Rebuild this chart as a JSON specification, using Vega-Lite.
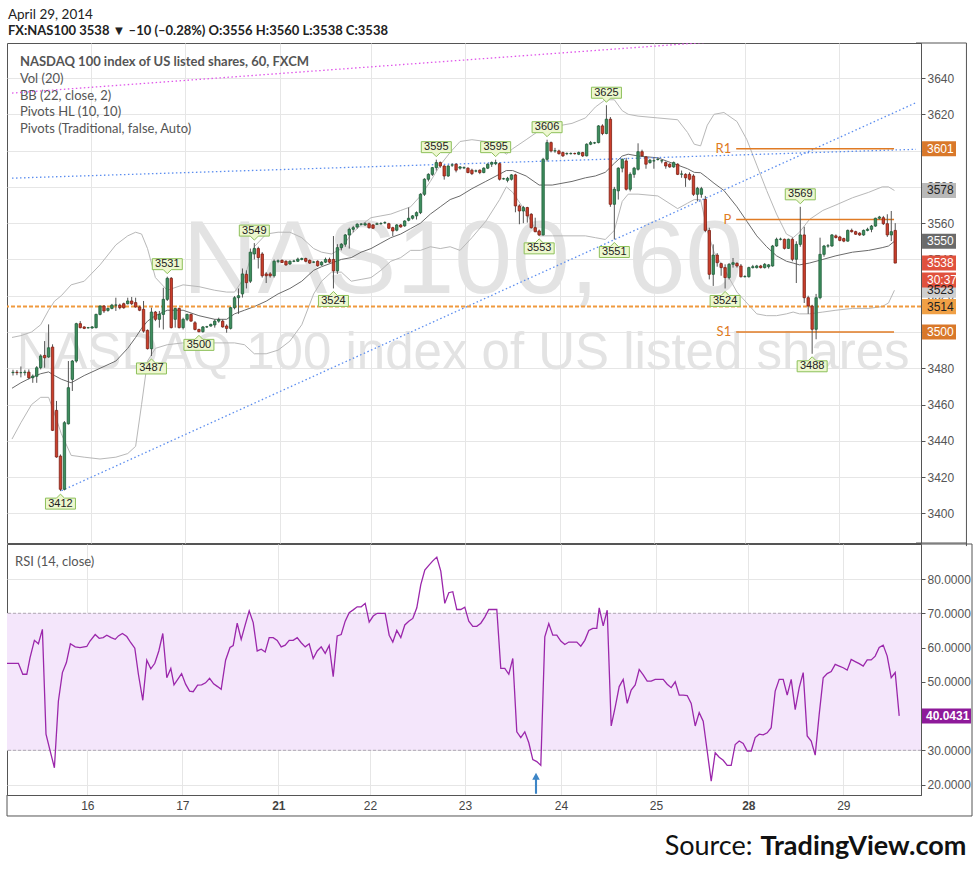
{
"$schema":"https://vega.github.io/schema/vega-lite/v6.json",
"background":"white",
"padding":{"left":3,"top":7,"right":0,"bottom":0},
"spacing":1,
"bounds":"flush",
"title":{"text":"April 29, 2014","subtitle":"FX:NAS100  3538 ▼ –10 (–0.28%)  O:3556  H:3560  L:3538  C:3538","anchor":"start","dx":4,"font":"Lato","fontSize":13.5,"fontWeight":"normal","color":"#222","subtitleFont":"Lato","subtitleFontSize":13,"subtitleFontWeight":"bold","subtitleColor":"#222","offset":4,"subtitlePadding":4},
"config":{
 "view":{"stroke":"#555","strokeWidth":1},
 "axis":{"gridColor":"#e6e6e6","gridWidth":1,"labelFont":"Liberation Sans","labelFontSize":12,"labelColor":"#555","domainColor":"#555","tickColor":"#555","minExtent":0,"labelOverlap":false,"labelBound":false,"labelFlush":false}
},
"datasets":{
"candles":[
{"k":0,"o":3477.6,"h":3479.2,"l":3476,"c":3477.8},{"k":1,"o":3477.8,"h":3479,"l":3476.2,"c":3477.6},{"k":2,"o":3477.6,"h":3481,"l":3475,"c":3477.6},{"k":3,"o":3477.6,"h":3479.2,"l":3476,"c":3477.9},{"k":4,"o":3477.9,"h":3479.4,"l":3473.9,"c":3474.8},{"k":5,"o":3474.8,"h":3476.6,"l":3472,"c":3475.7},{"k":6,"o":3475.6,"h":3481.2,"l":3472,"c":3480.3},{"k":7,"o":3480.3,"h":3487.7,"l":3479.4,"c":3486.8},{"k":8,"o":3487.1,"h":3495,"l":3480.3,"c":3485.8},{"k":9,"o":3486.2,"h":3504.2,"l":3485.8,"c":3491.3},
{"k":10,"o":3491.7,"h":3493.2,"l":3445.4,"c":3445.8},{"k":11,"o":3456.8,"h":3462,"l":3430.7,"c":3431.1},{"k":12,"o":3431.6,"h":3432.5,"l":3412.3,"c":3413.3},{"k":13,"o":3413.3,"h":3450.9,"l":3412.7,"c":3450},{"k":14,"o":3449.4,"h":3484,"l":3449,"c":3469.3},{"k":15,"o":3473.9,"h":3484.6,"l":3467.5,"c":3484},{"k":16,"o":3484,"h":3505.1,"l":3483.1,"c":3504.6},{"k":17,"o":3504.6,"h":3506,"l":3502,"c":3502.4},{"k":18,"o":3502.8,"h":3503.1,"l":3501.6,"c":3502},{"k":19,"o":3502.3,"h":3502.8,"l":3501.9,"c":3502.4},
{"k":20,"o":3502.2,"h":3503.3,"l":3501.8,"c":3502.8},{"k":21,"o":3502.4,"h":3510.1,"l":3502,"c":3509.7},{"k":22,"o":3509.7,"h":3514.8,"l":3509.2,"c":3514.3},{"k":23,"o":3514.3,"h":3514.8,"l":3510.5,"c":3511.6},{"k":24,"o":3511.9,"h":3513.4,"l":3511.2,"c":3513},{"k":25,"o":3513,"h":3515.5,"l":3512.5,"c":3514.8},{"k":26,"o":3514.8,"h":3518.9,"l":3511.6,"c":3514.9},{"k":27,"o":3514.8,"h":3515.6,"l":3512.5,"c":3513.4},{"k":28,"o":3515.6,"h":3516.2,"l":3512.8,"c":3513.4},{"k":29,"o":3515.6,"h":3518.9,"l":3515.2,"c":3517.1},
{"k":30,"o":3517.1,"h":3519.3,"l":3514.9,"c":3515.6},{"k":31,"o":3516.2,"h":3518.9,"l":3513.4,"c":3513.8},{"k":32,"o":3513.8,"h":3514.5,"l":3511.5,"c":3512},{"k":33,"o":3512.5,"h":3517.1,"l":3499.6,"c":3500.5},{"k":34,"o":3500.9,"h":3501.4,"l":3490.4,"c":3490.8},{"k":35,"o":3490.8,"h":3513.4,"l":3486.8,"c":3511},{"k":36,"o":3511,"h":3511.6,"l":3506,"c":3507},{"k":37,"o":3507,"h":3511.6,"l":3502.4,"c":3509.7},{"k":38,"o":3509.7,"h":3524.4,"l":3501.4,"c":3518},{"k":39,"o":3518,"h":3530.5,"l":3517.1,"c":3529.6},
{"k":40,"o":3529.6,"h":3530.3,"l":3502,"c":3502.4},{"k":41,"o":3507,"h":3513.4,"l":3502.4,"c":3513},{"k":42,"o":3513,"h":3513.4,"l":3502,"c":3502.4},{"k":43,"o":3502.4,"h":3507.9,"l":3501.4,"c":3507},{"k":44,"o":3507,"h":3510.1,"l":3506,"c":3509.7},{"k":45,"o":3509.7,"h":3510.1,"l":3505.7,"c":3506},{"k":46,"o":3505.1,"h":3506,"l":3500.9,"c":3501.4},{"k":47,"o":3501.4,"h":3501.8,"l":3499.8,"c":3500.2},{"k":48,"o":3500.2,"h":3503.3,"l":3499.6,"c":3502.8},{"k":49,"o":3502.8,"h":3503.4,"l":3502.2,"c":3502.9},
{"k":50,"o":3503.3,"h":3504.6,"l":3502.9,"c":3504.2},{"k":51,"o":3503.9,"h":3507,"l":3502.4,"c":3506},{"k":52,"o":3506,"h":3507.9,"l":3505.1,"c":3506.9},{"k":53,"o":3506,"h":3506.9,"l":3502.4,"c":3502.8},{"k":54,"o":3503.3,"h":3504.2,"l":3499.6,"c":3502},{"k":55,"o":3502,"h":3513.8,"l":3501.4,"c":3513.4},{"k":56,"o":3513.4,"h":3519.8,"l":3512.5,"c":3518.9},{"k":57,"o":3518.9,"h":3524,"l":3510,"c":3520},{"k":58,"o":3521,"h":3535,"l":3519,"c":3532},{"k":59,"o":3531.8,"h":3534,"l":3524,"c":3527.2},
{"k":60,"o":3528,"h":3546,"l":3527,"c":3544},{"k":61,"o":3543,"h":3549,"l":3540,"c":3546},{"k":62,"o":3546,"h":3547,"l":3535,"c":3541},{"k":63,"o":3543,"h":3544,"l":3530,"c":3531},{"k":64,"o":3532,"h":3533,"l":3527,"c":3531},{"k":65,"o":3532,"h":3533,"l":3530,"c":3531},{"k":66,"o":3531,"h":3540,"l":3530,"c":3539},{"k":67,"o":3539,"h":3540,"l":3538,"c":3539.2},{"k":68,"o":3539.5,"h":3540,"l":3538,"c":3538.3},{"k":69,"o":3539,"h":3539.5,"l":3536.5,"c":3537},
{"k":70,"o":3537.5,"h":3539.5,"l":3537,"c":3539},{"k":71,"o":3539,"h":3539.8,"l":3538.5,"c":3539.1},{"k":72,"o":3539,"h":3541,"l":3538.6,"c":3540.2},{"k":73,"o":3540,"h":3541,"l":3539.5,"c":3540.5},{"k":74,"o":3540.5,"h":3541,"l":3538.5,"c":3539},{"k":75,"o":3539.5,"h":3540,"l":3537.5,"c":3538},{"k":76,"o":3538.5,"h":3539,"l":3538,"c":3538.6},{"k":77,"o":3539,"h":3539.5,"l":3536,"c":3536.5},{"k":78,"o":3537,"h":3539,"l":3536.5,"c":3538.5},{"k":79,"o":3538.5,"h":3541,"l":3538,"c":3540},
{"k":80,"o":3540,"h":3541,"l":3538,"c":3538.5},{"k":81,"o":3540,"h":3552.9,"l":3524,"c":3533.7},{"k":82,"o":3533.7,"h":3548.4,"l":3532,"c":3546.5},{"k":83,"o":3546.5,"h":3549,"l":3545,"c":3548.4},{"k":84,"o":3548.4,"h":3554,"l":3547,"c":3553.5},{"k":85,"o":3553.5,"h":3557.5,"l":3546,"c":3556.6},{"k":86,"o":3556.6,"h":3558.5,"l":3555,"c":3557.5},{"k":87,"o":3557.9,"h":3560,"l":3557,"c":3559.4},{"k":88,"o":3559.4,"h":3560,"l":3558.8,"c":3559.5},{"k":89,"o":3559,"h":3560.5,"l":3558.5,"c":3559.7},
{"k":90,"o":3559.7,"h":3560.3,"l":3557,"c":3557.5},{"k":91,"o":3559,"h":3559.5,"l":3556.8,"c":3557.2},{"k":92,"o":3559.4,"h":3560.3,"l":3559,"c":3559.7},{"k":93,"o":3559.7,"h":3560.5,"l":3559.2,"c":3559.8},{"k":94,"o":3560.2,"h":3561,"l":3559.5,"c":3560.3},{"k":95,"o":3559.7,"h":3560.2,"l":3556.8,"c":3557.2},{"k":96,"o":3557.5,"h":3558,"l":3552.9,"c":3555.7},{"k":97,"o":3556.1,"h":3559.5,"l":3555.5,"c":3559},{"k":98,"o":3559,"h":3559.5,"l":3557.5,"c":3557.9},{"k":99,"o":3558.5,"h":3561.6,"l":3558,"c":3561.2},
{"k":100,"o":3561.6,"h":3568.6,"l":3561,"c":3562.7},{"k":101,"o":3562.7,"h":3564.5,"l":3562,"c":3564},{"k":102,"o":3564,"h":3566.5,"l":3562,"c":3565.8},{"k":103,"o":3565.8,"h":3576.5,"l":3565,"c":3575.9},{"k":104,"o":3575.9,"h":3584.8,"l":3575,"c":3584.2},{"k":105,"o":3584.2,"h":3587.5,"l":3583,"c":3586.9},{"k":106,"o":3586.9,"h":3591,"l":3586,"c":3590.6},{"k":107,"o":3590.6,"h":3595,"l":3589,"c":3593.4},{"k":108,"o":3593.4,"h":3594,"l":3590.5,"c":3591.5},{"k":109,"o":3591.5,"h":3592,"l":3584,"c":3586},
{"k":110,"o":3586,"h":3592,"l":3585.5,"c":3591.5},{"k":111,"o":3592,"h":3593,"l":3591,"c":3592.1},{"k":112,"o":3592.5,"h":3593,"l":3588,"c":3589.2},{"k":113,"o":3590.3,"h":3591.5,"l":3589.5,"c":3591},{"k":114,"o":3590.5,"h":3591.3,"l":3589.8,"c":3590.6},{"k":115,"o":3590.3,"h":3590.8,"l":3587.5,"c":3587.9},{"k":116,"o":3589.2,"h":3590,"l":3586.5,"c":3587.3},{"k":117,"o":3588.7,"h":3589.5,"l":3588,"c":3588.8},{"k":118,"o":3589.2,"h":3589.6,"l":3587,"c":3587.9},{"k":119,"o":3587.9,"h":3590.8,"l":3587.5,"c":3590.3},
{"k":120,"o":3590.3,"h":3593,"l":3589.8,"c":3592.5},{"k":121,"o":3592.5,"h":3594,"l":3591,"c":3593.4},{"k":122,"o":3592.8,"h":3595,"l":3592,"c":3593.4},{"k":123,"o":3592.8,"h":3593.5,"l":3583.5,"c":3584.2},{"k":124,"o":3584.4,"h":3585,"l":3584,"c":3584.5},{"k":125,"o":3583.6,"h":3585.5,"l":3582.5,"c":3584.7},{"k":126,"o":3584.2,"h":3587,"l":3583.5,"c":3586.6},{"k":127,"o":3586.6,"h":3587.2,"l":3566,"c":3569.5},{"k":128,"o":3569.5,"h":3570.4,"l":3559.4,"c":3566.7},{"k":129,"o":3566.7,"h":3569.5,"l":3560,"c":3568.6},
{"k":130,"o":3568.6,"h":3569,"l":3560.3,"c":3564},{"k":131,"o":3564.9,"h":3565.5,"l":3557,"c":3557.5},{"k":132,"o":3557.5,"h":3563,"l":3555,"c":3555.3},{"k":133,"o":3555.7,"h":3556.5,"l":3553,"c":3553.5},{"k":134,"o":3553.5,"h":3596,"l":3553.2,"c":3595.2},{"k":135,"o":3595.2,"h":3606,"l":3594,"c":3604.4},{"k":136,"o":3604.4,"h":3605,"l":3599,"c":3599.8},{"k":137,"o":3599.8,"h":3601.5,"l":3598.8,"c":3599.9},{"k":138,"o":3599.8,"h":3600.5,"l":3597.8,"c":3598.3},{"k":139,"o":3598.9,"h":3599.5,"l":3596.5,"c":3597.1},
{"k":140,"o":3598.3,"h":3599,"l":3597.5,"c":3598.4},{"k":141,"o":3598.3,"h":3599,"l":3597.8,"c":3598.4},{"k":142,"o":3598.4,"h":3598.9,"l":3597.8,"c":3598.3},{"k":143,"o":3598,"h":3599.5,"l":3597.5,"c":3598.9},{"k":144,"o":3598.9,"h":3599.3,"l":3596.5,"c":3597.1},{"k":145,"o":3597.1,"h":3604,"l":3596.8,"c":3603.5},{"k":146,"o":3603.5,"h":3605.3,"l":3603,"c":3604.4},{"k":147,"o":3604.2,"h":3604.8,"l":3603.6,"c":3604.3},{"k":148,"o":3604.4,"h":3614,"l":3604,"c":3613.6},{"k":149,"o":3613.6,"h":3614.5,"l":3608.5,"c":3609.4},
{"k":150,"o":3609.4,"h":3625,"l":3609,"c":3617.3},{"k":151,"o":3617.3,"h":3618.5,"l":3569,"c":3570.4},{"k":152,"o":3570.4,"h":3580,"l":3551,"c":3578.7},{"k":153,"o":3577.8,"h":3590.8,"l":3573,"c":3590.3},{"k":154,"o":3590.3,"h":3595.6,"l":3588,"c":3595.2},{"k":155,"o":3594.3,"h":3596,"l":3578,"c":3578.7},{"k":156,"o":3578.7,"h":3588,"l":3577.5,"c":3586.9},{"k":157,"o":3586.9,"h":3591,"l":3585,"c":3590.3},{"k":158,"o":3589.7,"h":3604,"l":3589,"c":3599.4},{"k":159,"o":3599.4,"h":3600.5,"l":3596.5,"c":3597.1},
{"k":160,"o":3596.5,"h":3597,"l":3590,"c":3592.5},{"k":161,"o":3593.4,"h":3595.5,"l":3592.8,"c":3594.7},{"k":162,"o":3594.3,"h":3596,"l":3590,"c":3594.4},{"k":163,"o":3595.1,"h":3596.2,"l":3594.5,"c":3595.2},{"k":164,"o":3594.3,"h":3595,"l":3593,"c":3594.4},{"k":165,"o":3593.4,"h":3594,"l":3590,"c":3591.5},{"k":166,"o":3592.5,"h":3593,"l":3590.5,"c":3591},{"k":167,"o":3591,"h":3594,"l":3590.5,"c":3593.4},{"k":168,"o":3592.5,"h":3593,"l":3586.5,"c":3586.9},{"k":169,"o":3587,"h":3589,"l":3585,"c":3587.1},
{"k":170,"o":3586.9,"h":3587.5,"l":3580,"c":3585},{"k":171,"o":3586.9,"h":3588,"l":3583.5,"c":3584.2},{"k":172,"o":3586,"h":3587,"l":3575,"c":3575.9},{"k":173,"o":3575.9,"h":3580,"l":3572,"c":3579.2},{"k":174,"o":3575.9,"h":3580,"l":3574,"c":3579},{"k":175,"o":3573.1,"h":3575,"l":3555,"c":3556},{"k":176,"o":3556,"h":3557.5,"l":3529,"c":3531.8},{"k":177,"o":3531.8,"h":3548.3,"l":3525.4,"c":3542.4},{"k":178,"o":3542.4,"h":3543.5,"l":3536,"c":3538.2},{"k":179,"o":3537.7,"h":3538.2,"l":3531,"c":3535.5},
{"k":180,"o":3535.5,"h":3537.3,"l":3524,"c":3530},{"k":181,"o":3530,"h":3538,"l":3529,"c":3537.3},{"k":182,"o":3537.3,"h":3540.8,"l":3535.5,"c":3538.2},{"k":183,"o":3537.8,"h":3538.5,"l":3535.5,"c":3536.4},{"k":184,"o":3536.4,"h":3537.5,"l":3530,"c":3530.5},{"k":185,"o":3530.5,"h":3531.3,"l":3530,"c":3530.6},{"k":186,"o":3530.5,"h":3536,"l":3530,"c":3535.5},{"k":187,"o":3535.5,"h":3537,"l":3535,"c":3536},{"k":188,"o":3535.5,"h":3537,"l":3535,"c":3536.4},{"k":189,"o":3536.4,"h":3537,"l":3535,"c":3535.5},
{"k":190,"o":3535.5,"h":3538,"l":3535,"c":3537.3},{"k":191,"o":3536,"h":3537.5,"l":3535,"c":3537},{"k":192,"o":3536.4,"h":3548,"l":3536,"c":3547.4},{"k":193,"o":3547.4,"h":3552,"l":3547,"c":3551.1},{"k":194,"o":3551.1,"h":3552,"l":3550.5,"c":3551.2},{"k":195,"o":3551.1,"h":3551.5,"l":3545.5,"c":3546.1},{"k":196,"o":3546.1,"h":3551.5,"l":3545.8,"c":3551.1},{"k":197,"o":3551.1,"h":3552,"l":3539,"c":3540.1},{"k":198,"o":3540.1,"h":3550,"l":3527,"c":3548.3},{"k":199,"o":3548.3,"h":3569,"l":3547,"c":3553.5},
{"k":200,"o":3553.5,"h":3558,"l":3516,"c":3518.9},{"k":201,"o":3518.9,"h":3520,"l":3510,"c":3514.3},{"k":202,"o":3514.3,"h":3515,"l":3488,"c":3501.5},{"k":203,"o":3501.5,"h":3521,"l":3496,"c":3518.9},{"k":204,"o":3518.9,"h":3552,"l":3518,"c":3542.8},{"k":205,"o":3542.8,"h":3548,"l":3541.5,"c":3547.4},{"k":206,"o":3547.4,"h":3548.5,"l":3546.5,"c":3547.5},{"k":207,"o":3547.4,"h":3554,"l":3547,"c":3553.5},{"k":208,"o":3553,"h":3553.8,"l":3551.5,"c":3552.1},{"k":209,"o":3552.4,"h":3553,"l":3550,"c":3550.5},
{"k":210,"o":3551.5,"h":3552,"l":3549.5,"c":3550.1},{"k":211,"o":3550.1,"h":3556.5,"l":3549.8,"c":3556},{"k":212,"o":3556,"h":3557,"l":3554.8,"c":3555.3},{"k":213,"o":3555.3,"h":3555.8,"l":3553.5,"c":3553.9},{"k":214,"o":3554.5,"h":3555,"l":3553,"c":3553.5},{"k":215,"o":3553.5,"h":3556.5,"l":3553,"c":3556},{"k":216,"o":3556,"h":3557.5,"l":3555.5,"c":3556.6},{"k":217,"o":3556.6,"h":3559,"l":3555,"c":3558.4},{"k":218,"o":3558.4,"h":3563,"l":3558,"c":3562.7},{"k":219,"o":3562.7,"h":3564,"l":3562,"c":3563.4},
{"k":220,"o":3563,"h":3564,"l":3559,"c":3559.7},{"k":221,"o":3559.7,"h":3564.9,"l":3552.4,"c":3553.5},{"k":222,"o":3553.5,"h":3566.7,"l":3550.1,"c":3555.3},{"k":223,"o":3556,"h":3560,"l":3538,"c":3538}
],
"bb":[
{"k":-0.25,"u":3497,"m":3469,"lo":3441},{"k":2,"u":3498,"m":3472,"lo":3450},{"k":4.7,"u":3500,"m":3475,"lo":3460},{"k":7,"u":3504,"m":3477,"lo":3464},{"k":9,"u":3512,"m":3478,"lo":3464},{"k":10.5,"u":3517,"m":3476,"lo":3455},{"k":12.2,"u":3520,"m":3474,"lo":3444},{"k":14.7,"u":3526,"m":3472,"lo":3432},{"k":18,"u":3528,"m":3476,"lo":3431},{"k":22,"u":3537,"m":3480,"lo":3430},{"k":26,"u":3548,"m":3484,"lo":3431},{"k":29,"u":3553,"m":3491,"lo":3433},{"k":31,"u":3555,"m":3497,"lo":3437},{"k":32.5,"u":3554,"m":3502,"lo":3460},{"k":34,"u":3546,"m":3506,"lo":3484},{"k":36,"u":3530,"m":3509,"lo":3491},{"k":39,"u":3523,"m":3512,"lo":3493},{"k":43,"u":3526,"m":3512,"lo":3494},{"k":47,"u":3525,"m":3509,"lo":3493},{"k":51,"u":3523,"m":3507,"lo":3494},{"k":54,"u":3522,"m":3507,"lo":3494},{"k":56,"u":3522,"m":3510,"lo":3494},{"k":58.5,"u":3530,"m":3512,"lo":3493},{"k":61,"u":3547,"m":3514,"lo":3488},{"k":64,"u":3554,"m":3517,"lo":3488},{"k":67,"u":3555,"m":3521,"lo":3490},{"k":70,"u":3555,"m":3524,"lo":3495},{"k":73,"u":3552,"m":3528,"lo":3504},{"k":76,"u":3546,"m":3534,"lo":3521},{"k":78,"u":3544,"m":3536,"lo":3528},{"k":80.5,"u":3543,"m":3538,"lo":3533},{"k":83,"u":3546,"m":3540,"lo":3533},{"k":85.5,"u":3554,"m":3541,"lo":3528},{"k":88,"u":3559,"m":3544,"lo":3529},{"k":90.5,"u":3563,"m":3546,"lo":3530},{"k":93,"u":3564,"m":3549,"lo":3534},{"k":95.5,"u":3565,"m":3552,"lo":3539},{"k":98,"u":3567,"m":3554,"lo":3541},{"k":100.5,"u":3569,"m":3557,"lo":3545},{"k":103,"u":3575,"m":3560,"lo":3545},{"k":105.5,"u":3583,"m":3565,"lo":3547},{"k":108,"u":3592,"m":3569,"lo":3546},{"k":110.5,"u":3599,"m":3573,"lo":3547},{"k":113,"u":3605,"m":3575,"lo":3545},{"k":116,"u":3606,"m":3579,"lo":3552},{"k":119.5,"u":3605,"m":3583,"lo":3561},{"k":123,"u":3601,"m":3587,"lo":3573},{"k":124.7,"u":3598,"m":3589,"lo":3580},{"k":126.3,"u":3601,"m":3589,"lo":3577},{"k":129.7,"u":3606,"m":3586,"lo":3566},{"k":133,"u":3611,"m":3581,"lo":3553},{"k":136.3,"u":3613,"m":3581,"lo":3553},{"k":141.3,"u":3615,"m":3583,"lo":3553},{"k":144.7,"u":3618,"m":3585,"lo":3553},{"k":147.2,"u":3624,"m":3586,"lo":3552},{"k":149.7,"u":3628,"m":3588,"lo":3551},{"k":152,"u":3628,"m":3593,"lo":3556},{"k":154,"u":3622,"m":3597,"lo":3572},{"k":155.5,"u":3620,"m":3598,"lo":3576},{"k":158,"u":3619,"m":3597,"lo":3576},{"k":163,"u":3618,"m":3596,"lo":3575},{"k":168,"u":3617,"m":3592,"lo":3568},{"k":170.5,"u":3610,"m":3590,"lo":3571},{"k":172.2,"u":3603.5,"m":3588,"lo":3573},{"k":173.8,"u":3602.6,"m":3587.8,"lo":3573},{"k":175.5,"u":3614,"m":3585,"lo":3556},{"k":177.2,"u":3620,"m":3582,"lo":3544},{"k":179.7,"u":3621,"m":3578,"lo":3535},{"k":183,"u":3616,"m":3569,"lo":3522},{"k":185.5,"u":3606,"m":3561,"lo":3516},{"k":188,"u":3592,"m":3553,"lo":3510},{"k":190.5,"u":3578,"m":3547,"lo":3509},{"k":193,"u":3565,"m":3542,"lo":3509},{"k":195.5,"u":3554,"m":3539,"lo":3510},{"k":197.2,"u":3552,"m":3538,"lo":3511},{"k":198.8,"u":3555,"m":3537,"lo":3510},{"k":201.3,"u":3562,"m":3538,"lo":3510},{"k":204.7,"u":3567,"m":3540,"lo":3511},{"k":208,"u":3570,"m":3542,"lo":3512},{"k":212.2,"u":3574,"m":3544,"lo":3513},{"k":216.3,"u":3577,"m":3545,"lo":3513},{"k":219.7,"u":3580,"m":3546.5,"lo":3514},{"k":221.3,"u":3580,"m":3547.4,"lo":3516},{"k":222.8,"u":3578,"m":3550,"lo":3523}
],
"rsi":[
{"k":-0.25,"r":55.4},{"k":2.6,"r":55.4},{"k":3.7,"r":52.2},{"k":4.7,"r":52.2},{"k":5.5,"r":57},{"k":6.6,"r":62.1},{"k":7.6,"r":61.1},{"k":8.6,"r":65.3},{"k":9.5,"r":34.7},{"k":10.5,"r":30},{"k":11.6,"r":24.9},{"k":12.6,"r":44.4},{"k":13.6,"r":52.7},{"k":14.6,"r":55.6},{"k":15.6,"r":61.1},{"k":16.8,"r":60.2},{"k":18,"r":60},{"k":19.7,"r":60.3},{"k":20.5,"r":61.9},{"k":21.8,"r":63.8},{"k":22.8,"r":62.7},{"k":23.8,"r":62.9},{"k":24.7,"r":63.6},{"k":25.8,"r":62.9},{"k":26.8,"r":62.4},{"k":27.6,"r":63.4},{"k":28.6,"r":64.1},{"k":29.7,"r":63.2},{"k":30.7,"r":61.4},{"k":31.7,"r":59.8},{"k":32.6,"r":52.2},{"k":33.7,"r":44.6},{"k":34.7,"r":56.3},{"k":35.7,"r":53.8},{"k":36.7,"r":55.4},{"k":37.7,"r":59},{"k":38.7,"r":64.1},{"k":39.7,"r":51.2},{"k":40.7,"r":53.9},{"k":41.5,"r":49.1},{"k":42.6,"r":51},{"k":43.4,"r":52.4},{"k":44.4,"r":49.3},{"k":45.4,"r":47.3},{"k":46.3,"r":47.1},{"k":47.4,"r":49},{"k":48.4,"r":49.1},{"k":49.4,"r":49.7},{"k":50.4,"r":51},{"k":51.4,"r":49.4},{"k":52.4,"r":48.6},{"k":53.3,"r":47.8},{"k":54.4,"r":56.3},{"k":55.5,"r":60},{"k":56.3,"r":60.6},{"k":57.3,"r":67.1},{"k":58.3,"r":62.4},{"k":59.3,"r":66.6},{"k":60.3,"r":70.7},{"k":61.3,"r":67.3},{"k":62.3,"r":59},{"k":63.3,"r":59.5},{"k":64.3,"r":58.7},{"k":65.3,"r":62.9},{"k":66.3,"r":62.9},{"k":67.3,"r":62.1},{"k":68.3,"r":60.2},{"k":69.3,"r":60.7},{"k":70.3,"r":62.1},{"k":71.3,"r":62.1},{"k":72.3,"r":62.9},{"k":73.3,"r":61.4},{"k":74.3,"r":60.2},{"k":75.3,"r":61.1},{"k":76.3,"r":56.8},{"k":77.3,"r":59},{"k":78.3,"r":60.2},{"k":79.3,"r":58.3},{"k":80.3,"r":60.6},{"k":81.3,"r":51.5},{"k":82.3,"r":63.4},{"k":83.3,"r":63.8},{"k":84.3,"r":67.7},{"k":85.3,"r":70.2},{"k":86.3,"r":71},{"k":87.3,"r":71.9},{"k":88.3,"r":71.9},{"k":89.3,"r":72.9},{"k":90.3,"r":67.4},{"k":91.3,"r":69.2},{"k":92.3,"r":70},{"k":93.3,"r":70},{"k":94.3,"r":70},{"k":95.3,"r":63.6},{"k":96.2,"r":61.6},{"k":97.2,"r":65},{"k":98.2,"r":62.9},{"k":99.2,"r":66.6},{"k":100.2,"r":67.7},{"k":101.2,"r":68.5},{"k":102.2,"r":71.6},{"k":103.2,"r":78.4},{"k":104.2,"r":82.6},{"k":105.2,"r":84},{"k":106.2,"r":85.3},{"k":107.2,"r":86.4},{"k":108.2,"r":82.3},{"k":109.2,"r":72.9},{"k":110.2,"r":76},{"k":111.2,"r":76.3},{"k":112.2,"r":71.1},{"k":113.2,"r":71.1},{"k":114.2,"r":71.8},{"k":115.2,"r":67.7},{"k":116.2,"r":66.2},{"k":117.2,"r":66.2},{"k":118.2,"r":67.1},{"k":119.2,"r":68.9},{"k":120.2,"r":71.1},{"k":122.2,"r":71.1},{"k":123.2,"r":53.9},{"k":124.2,"r":53.9},{"k":125.2,"r":52.2},{"k":126.2,"r":56.8},{"k":127.2,"r":35.4},{"k":128.2,"r":33.7},{"k":129.2,"r":35.4},{"k":130.2,"r":32.2},{"k":131.2,"r":27.3},{"k":132.2,"r":26.7},{"k":133.2,"r":25.6},{"k":134.2,"r":63.1},{"k":135.2,"r":67},{"k":136.2,"r":63.6},{"k":137.2,"r":63.6},{"k":138.2,"r":61.9},{"k":139.2,"r":60.9},{"k":140.2,"r":61.6},{"k":142.2,"r":61.6},{"k":143.2,"r":60.4},{"k":144.2,"r":62.1},{"k":145.2,"r":65},{"k":146.2,"r":65.6},{"k":147.2,"r":65.6},{"k":147.8,"r":71.6},{"k":148.8,"r":66.3},{"k":149.8,"r":70.9},{"k":150.8,"r":37.1},{"k":151.8,"r":42.6},{"k":152.8,"r":48.6},{"k":153.8,"r":50.7},{"k":154.8,"r":43.7},{"k":155.8,"r":47.6},{"k":156.8,"r":49.1},{"k":157.8,"r":53.6},{"k":158.8,"r":52},{"k":159.8,"r":50.2},{"k":160.8,"r":50.2},{"k":161.8,"r":50.7},{"k":163.8,"r":50.7},{"k":164.8,"r":49.3},{"k":165.8,"r":48.3},{"k":166.8,"r":50},{"k":167.8,"r":46.1},{"k":168.8,"r":46.1},{"k":169.8,"r":46},{"k":170.8,"r":43.7},{"k":171.8,"r":37.1},{"k":172.8,"r":41},{"k":173.8,"r":38.5},{"k":174.8,"r":29.8},{"k":175.8,"r":21},{"k":176.8,"r":29.3},{"k":177.8,"r":28},{"k":178.8,"r":27.1},{"k":179.8,"r":25.6},{"k":180.8,"r":25.6},{"k":181.8,"r":31.7},{"k":182.8,"r":32.7},{"k":183.8,"r":32},{"k":184.8,"r":29.8},{"k":185.8,"r":29.8},{"k":186.8,"r":33.7},{"k":187.8,"r":34.7},{"k":188.8,"r":34.5},{"k":189.8,"r":35.1},{"k":190.8,"r":36.6},{"k":191.8,"r":47.3},{"k":192.8,"r":50.7},{"k":193.8,"r":50.7},{"k":194.8,"r":46.1},{"k":195.8,"r":50.7},{"k":196.8,"r":41.9},{"k":197.8,"r":48.3},{"k":198.8,"r":52.7},{"k":199.8,"r":34.2},{"k":200.8,"r":32.7},{"k":201.8,"r":28.6},{"k":202.8,"r":40.5},{"k":203.8,"r":51.2},{"k":204.8,"r":52.4},{"k":205.8,"r":53},{"k":206.8,"r":55.1},{"k":207.8,"r":54.6},{"k":208.8,"r":54.1},{"k":209.8,"r":53.4},{"k":210.8,"r":56.5},{"k":211.8,"r":55.9},{"k":212.8,"r":55.3},{"k":213.8,"r":54.6},{"k":214.8,"r":56.4},{"k":215.8,"r":56.4},{"k":216.8,"r":57.5},{"k":217.8,"r":60},{"k":218.8,"r":60.7},{"k":219.8,"r":57.5},{"k":220.8,"r":51.2},{"k":221.8,"r":52.7},{"k":222.8,"r":40.0431}
],
"trend":[{"k":-0.25,"p":3631.7,"g":"m"},{"k":228.25,"p":3668.1,"g":"m"},{"k":-0.25,"p":3584.8,"g":"b1"},{"k":228.25,"p":3600.7,"g":"b1"},{"k":12.25,"p":3412.5,"g":"b2"},{"k":228.25,"p":3626.4,"g":"b2"}],
"piv":[{"n":"R1","v":3601,"k":182.8,"k1":222.7},{"n":"P","v":3562,"k":182.8,"k1":222.7},{"n":"S1","v":3500,"k":182.8,"k1":222.7}],
"hi":[{"k":39,"p":3530.5,"t":"3531"},{"k":61,"p":3549,"t":"3549"},{"k":107,"p":3595,"t":"3595"},{"k":122,"p":3595,"t":"3595"},{"k":135,"p":3606,"t":"3606"},{"k":150,"p":3625,"t":"3625"},{"k":199,"p":3569,"t":"3569"}],
"lo":[{"k":12,"p":3412.3,"t":"3412"},{"k":35,"p":3486.8,"t":"3487"},{"k":47,"p":3499.8,"t":"3500"},{"k":81,"p":3524,"t":"3524"},{"k":133,"p":3553,"t":"3553"},{"k":152,"p":3551,"t":"3551"},{"k":180,"p":3524,"t":"3524"},{"k":202,"p":3488,"t":"3488"}],
"badges":[{"v":3601,"t":"3601","c":"r1"},{"v":3578,"t":"3578","c":"bbu"},{"v":3550,"t":"3550","c":"bbm"},{"v":3538,"t":"3538","c":"last"},{"v":3523,"t":"3523","c":"bbl"},{"v":3514,"t":"3514","c":"lvl"},{"v":3500,"t":"3500","c":"s1"}]
},
"vconcat":[
{
 "width":914,"height":500,
 "layer":[
  {"data":{"name":"candles"},"mark":{"type":"rule","color":"#555","strokeWidth":1,"opacity":0},
   "encoding":{"x":{"field":"k","type":"quantitative","scale":{"domain":[-0.25,228.25],"nice":false,"zero":false},"axis":{"values":[19.83,43.58,67.58,90.5,114.25,138.25,162,185.08,208.83],"labels":false,"ticks":false,"domain":false,"grid":true,"title":null}},
    "y":{"field":"l","type":"quantitative","scale":{"domain":[3383.7,3659.3],"nice":false,"zero":false},"axis":{"orient":"right","values":[3400,3420,3440,3460,3480,3500,3520,3540,3560,3580,3600,3620,3640],"format":"d","tickSize":4,"labelPadding":2,"grid":true,"title":null,"domain":true}},
    "y2":{"field":"h"}}},
  {"data":{"values":[{"t":"NAS100, 60"}]},"mark":{"type":"text","font":"Liberation Sans","fontSize":104,"color":"#e3e3e3","align":"center","baseline":"middle","clip":true},
   "encoding":{"x":{"datum":113.75,"type":"quantitative"},"y":{"datum":3538.6,"type":"quantitative"},"text":{"field":"t"}}},
  {"data":{"values":[{"t":"NASDAQ 100 index of US listed shares"}]},"mark":{"type":"text","font":"Liberation Sans","fontSize":51,"color":"#e3e3e3","align":"left","baseline":"middle","clip":true},
   "encoding":{"x":{"datum":0.93,"type":"quantitative"},"y":{"datum":3487.9,"type":"quantitative"},"text":{"field":"t"}}},
  {"data":{"values":[{"t":"NASDAQ 100 index of US listed shares, 60, FXCM"}]},"mark":{"type":"text","font":"Lato","fontSize":13,"fontWeight":"bold","color":"#555","align":"left","baseline":"middle"},
   "encoding":{"x":{"datum":1.75,"type":"quantitative"},"y":{"datum":3649.0,"type":"quantitative"},"text":{"field":"t"}}},
  {"data":{"values":[{"t":["Vol (20)","BB (22, close, 2)","Pivots HL (10, 10)","Pivots (Traditional, false, Auto)"]}]},"mark":{"type":"text","font":"Lato","fontSize":13,"color":"#555","align":"left","baseline":"middle","lineHeight":16.6},
   "encoding":{"x":{"datum":1.75,"type":"quantitative"},"y":{"datum":3639.3,"type":"quantitative"},"text":{"field":"t"}}},
  {"data":{"name":"bb"},"mark":{"type":"line","color":"#b8b8b8","strokeWidth":1},"encoding":{"x":{"field":"k","type":"quantitative"},"y":{"field":"u","type":"quantitative"}}},
  {"data":{"name":"bb"},"mark":{"type":"line","color":"#b8b8b8","strokeWidth":1},"encoding":{"x":{"field":"k","type":"quantitative"},"y":{"field":"lo","type":"quantitative"}}},
  {"data":{"name":"bb"},"mark":{"type":"line","color":"#6b6b6b","strokeWidth":1},"encoding":{"x":{"field":"k","type":"quantitative"},"y":{"field":"m","type":"quantitative"}}},
  {"data":{"name":"trend"},"mark":{"type":"line","strokeWidth":1.3,"strokeDash":[1.5,2.5],"clip":true},"encoding":{"x":{"field":"k","type":"quantitative"},"y":{"field":"p","type":"quantitative"},"stroke":{"field":"g","type":"nominal","scale":{"domain":["m","b1","b2"],"range":["#e056ea","#5b8def","#5b8def"]},"legend":null}}},
  {"data":{"values":[{"v":3514}]},"mark":{"type":"rule","color":"#f09a3e","strokeWidth":2,"strokeDash":[4,2]},"encoding":{"y":{"field":"v","type":"quantitative"}}},
  {"data":{"name":"piv"},"mark":{"type":"rule","color":"#e07b24","strokeWidth":1.3},"encoding":{"x":{"field":"k","type":"quantitative"},"x2":{"field":"k1"},"y":{"field":"v","type":"quantitative"}}},
  {"data":{"name":"piv"},"mark":{"type":"text","color":"#e07b24","font":"Lato","fontSize":13,"align":"right","baseline":"middle","dx":-5},"encoding":{"x":{"field":"k","type":"quantitative"},"y":{"field":"v","type":"quantitative"},"text":{"field":"n"}}},
  {"data":{"name":"candles"},"mark":{"type":"rule","color":"#555","strokeWidth":1},"encoding":{"x":{"field":"k","type":"quantitative"},"y":{"field":"l","type":"quantitative"},"y2":{"field":"h"}}},
  {"data":{"name":"candles"},"mark":{"type":"bar","size":2.4,"strokeWidth":0.8},"encoding":{"x":{"field":"k","type":"quantitative"},"y":{"field":"o","type":"quantitative"},"y2":{"field":"c"},
    "fill":{"condition":{"test":"datum.c >= datum.o","value":"#3e8e5e"},"value":"#cc3f2c"},
    "stroke":{"condition":{"test":"datum.c >= datum.o","value":"#1f5e3a"},"value":"#7d1f14"}}},
  {"data":{"name":"hi"},"mark":{"type":"point","shape":"M-1,-1.2H1V-0.467H0.267L0,-0.2L-0.267,-0.467H-1Z","size":900,"filled":true,"fill":"#edf7cf","stroke":"#8dc05a","strokeWidth":1,"opacity":1},"encoding":{"x":{"field":"k","type":"quantitative"},"y":{"field":"p","type":"quantitative"}}},
  {"data":{"name":"hi"},"mark":{"type":"text","font":"Liberation Sans","fontSize":11,"color":"#222","align":"center","baseline":"middle","dy":-12.5},"encoding":{"x":{"field":"k","type":"quantitative"},"y":{"field":"p","type":"quantitative"},"text":{"field":"t"}}},
  {"data":{"name":"lo"},"mark":{"type":"point","shape":"M-1,1.2H1V0.467H0.267L0,0.2L-0.267,0.467H-1Z","size":900,"filled":true,"fill":"#edf7cf","stroke":"#8dc05a","strokeWidth":1,"opacity":1},"encoding":{"x":{"field":"k","type":"quantitative"},"y":{"field":"p","type":"quantitative"}}},
  {"data":{"name":"lo"},"mark":{"type":"text","font":"Liberation Sans","fontSize":11,"color":"#222","align":"center","baseline":"middle","dy":12.5},"encoding":{"x":{"field":"k","type":"quantitative"},"y":{"field":"p","type":"quantitative"},"text":{"field":"t"}}},
  {"data":{"name":"badges"},"mark":{"type":"point","shape":"M0.06,-0.43H2V0.43H0.06Z","size":1225,"filled":true,"opacity":1,"strokeWidth":0},"encoding":{"x":{"value":"width"},"y":{"field":"v","type":"quantitative"},"fill":{"field":"c","type":"nominal","scale":{"domain":["r1","bbu","bbm","last","bbl","lvl","s1"],"range":["#d9782a","#b9b9b9","#6b6b6b","#e0513d","#cfcfcf","#f0a045","#d9782a"]},"legend":null}}},
  {"data":{"values":[{"v":3538,"t":"30:37"}]},"mark":{"type":"point","shape":"M0.06,0.54H2V1.4H0.06Z","size":1225,"filled":true,"opacity":1,"strokeWidth":0,"fill":"#e0513d"},"encoding":{"x":{"value":"width"},"y":{"field":"v","type":"quantitative"}}},
  {"data":{"name":"badges"},"mark":{"type":"text","font":"Liberation Sans","fontSize":12,"align":"left","baseline":"middle","dx":6},"encoding":{"x":{"value":"width"},"y":{"field":"v","type":"quantitative"},"text":{"field":"t"},"color":{"field":"c","type":"nominal","scale":{"domain":["r1","bbu","bbm","last","bbl","lvl","s1"],"range":["#ffffff","#222222","#ffffff","#ffffff","#222222","#222222","#ffffff"]},"legend":null}}},
  {"data":{"values":[{"v":3538,"t":"30:37"}]},"mark":{"type":"text","font":"Liberation Sans","fontSize":12,"align":"left","baseline":"middle","dx":6,"dy":17,"color":"#ffffff"},"encoding":{"x":{"value":"width"},"y":{"field":"v","type":"quantitative"},"text":{"field":"t"}}},
  {"data":{"values":[{}]},"mark":{"type":"rule","color":"#555","strokeWidth":1,"clip":false},"encoding":{"x":{"datum":228.25,"type":"quantitative"},"x2":{"datum":241},"y":{"datum":3659.3,"type":"quantitative"}}},
  {"data":{"values":[{}]},"mark":{"type":"rule","color":"#555","strokeWidth":1,"clip":false},"encoding":{"x":{"datum":241,"type":"quantitative"},"y":{"datum":3659.3,"type":"quantitative"},"y2":{"datum":3382.0}}},
  {"data":{"values":[{}]},"mark":{"type":"rule","color":"#555","strokeWidth":1,"clip":false},"encoding":{"x":{"datum":228.25,"type":"quantitative"},"x2":{"datum":241},"y":{"datum":3383.7,"type":"quantitative"}}}
 ]
},
{
 "width":914,"height":251,
 "layer":[
  {"data":{"name":"rsi"},"mark":{"type":"line","opacity":0},
   "encoding":{"x":{"field":"k","type":"quantitative","scale":{"domain":[-0.25,228.25],"nice":false,"zero":false},
     "axis":{"values":[19.83,43.58,67.58,90.5,114.25,138.25,162,185.08,208.83],"ticks":false,"domain":true,"grid":true,"labelPadding":5,"labelColor":"#444",
      "labelExpr":"datum.value<30?'16':datum.value<50?'17':datum.value<80?'21':datum.value<100?'22':datum.value<120?'23':datum.value<150?'24':datum.value<170?'25':datum.value<200?'28':'29'",
      "labelFontWeight":{"condition":{"test":"(datum.value>60 && datum.value<80) || (datum.value>180 && datum.value<200)","value":"bold"},"value":"normal"},
      "title":"Source:","titleFont":"Lato","titleFontSize":27,"titleFontWeight":"normal","titleColor":"#111","titleX":745,"titleY":59,"titleAlign":"right","titleBaseline":"alphabetic","titleAnchor":null}},
    "y":{"field":"r","type":"quantitative","scale":{"domain":[16.95,90.23],"nice":false,"zero":false},
     "axis":{"orient":"right","values":[20,30,40,50,60,70,80],"format":".4f","tickSize":4,"labelPadding":2,"grid":true,"domain":true,
      "title":"TradingView.com","titleFont":"Lato","titleFontSize":27,"titleFontWeight":"bold","titleColor":"#111","titleAngle":0,"titleX":-161,"titleY":310,"titleAlign":"left","titleBaseline":"alphabetic","titleAnchor":null}}}},
  {"data":{"values":[{"lo":30,"hi":70}]},"mark":{"type":"rect","color":"#f4e6fb"},"encoding":{"x":{"datum":-0.25,"type":"quantitative"},"x2":{"datum":228.25},"y":{"field":"hi","type":"quantitative"},"y2":{"field":"lo"}}},
  {"data":{"values":[{"v":30},{"v":70}]},"mark":{"type":"rule","color":"#b0a8b4","strokeWidth":1,"strokeDash":[3,2]},"encoding":{"y":{"field":"v","type":"quantitative"}}},
  {"data":{"values":[{"t":"RSI (14, close)"}]},"mark":{"type":"text","font":"Lato","fontSize":13,"color":"#555","align":"left","baseline":"middle"},"encoding":{"x":{"datum":1.75,"type":"quantitative"},"y":{"datum":85.07,"type":"quantitative"},"text":{"field":"t"}}},
  {"data":{"name":"rsi"},"mark":{"type":"line","color":"#9b27ab","strokeWidth":1.3},"encoding":{"x":{"field":"k","type":"quantitative"},"y":{"field":"r","type":"quantitative"}}},
  {"data":{"values":[{"k":132,"r":20.36}]},"mark":{"type":"point","shape":"M0,-1L0.36,-0.33H0.1V1H-0.1V-0.33H-0.36Z","size":441,"filled":true,"color":"#3d85c6","opacity":1},"encoding":{"x":{"field":"k","type":"quantitative"},"y":{"field":"r","type":"quantitative"}}},
  {"data":{"values":[{"r":40.0431,"t":"40.0431"}]},"mark":{"type":"point","shape":"M0.04,-0.3H2V0.3H0.04Z","size":2500,"filled":true,"opacity":1,"strokeWidth":0,"color":"#8e1a9a"},"encoding":{"x":{"value":"width"},"y":{"field":"r","type":"quantitative"}}},
  {"data":{"values":[{"r":40.0431,"t":"40.0431"}]},"mark":{"type":"text","font":"Liberation Sans","fontSize":12,"fontWeight":"bold","color":"#ffffff","align":"left","baseline":"middle","dx":5},"encoding":{"x":{"value":"width"},"y":{"field":"r","type":"quantitative"},"text":{"field":"t"}}},
  {"data":{"values":[{}]},"mark":{"type":"rule","color":"#555","strokeWidth":1,"clip":false},"encoding":{"x":{"datum":228.25,"type":"quantitative"},"x2":{"datum":241},"y":{"datum":90.23,"type":"quantitative"}}},
  {"data":{"values":[{}]},"mark":{"type":"rule","color":"#555","strokeWidth":1,"clip":false},"encoding":{"x":{"datum":241,"type":"quantitative"},"y":{"datum":90.23,"type":"quantitative"},"y2":{"datum":10.82}}},
  {"data":{"values":[{}]},"mark":{"type":"rule","color":"#555","strokeWidth":1,"clip":false},"encoding":{"x":{"datum":-0.25,"type":"quantitative"},"x2":{"datum":241},"y":{"datum":10.82,"type":"quantitative"}}},
  {"data":{"values":[{}]},"mark":{"type":"rule","color":"#555","strokeWidth":1,"clip":false},"encoding":{"x":{"datum":-0.25,"type":"quantitative"},"y":{"datum":16.95,"type":"quantitative"},"y2":{"datum":10.82}}}
 ]
}
]
}
